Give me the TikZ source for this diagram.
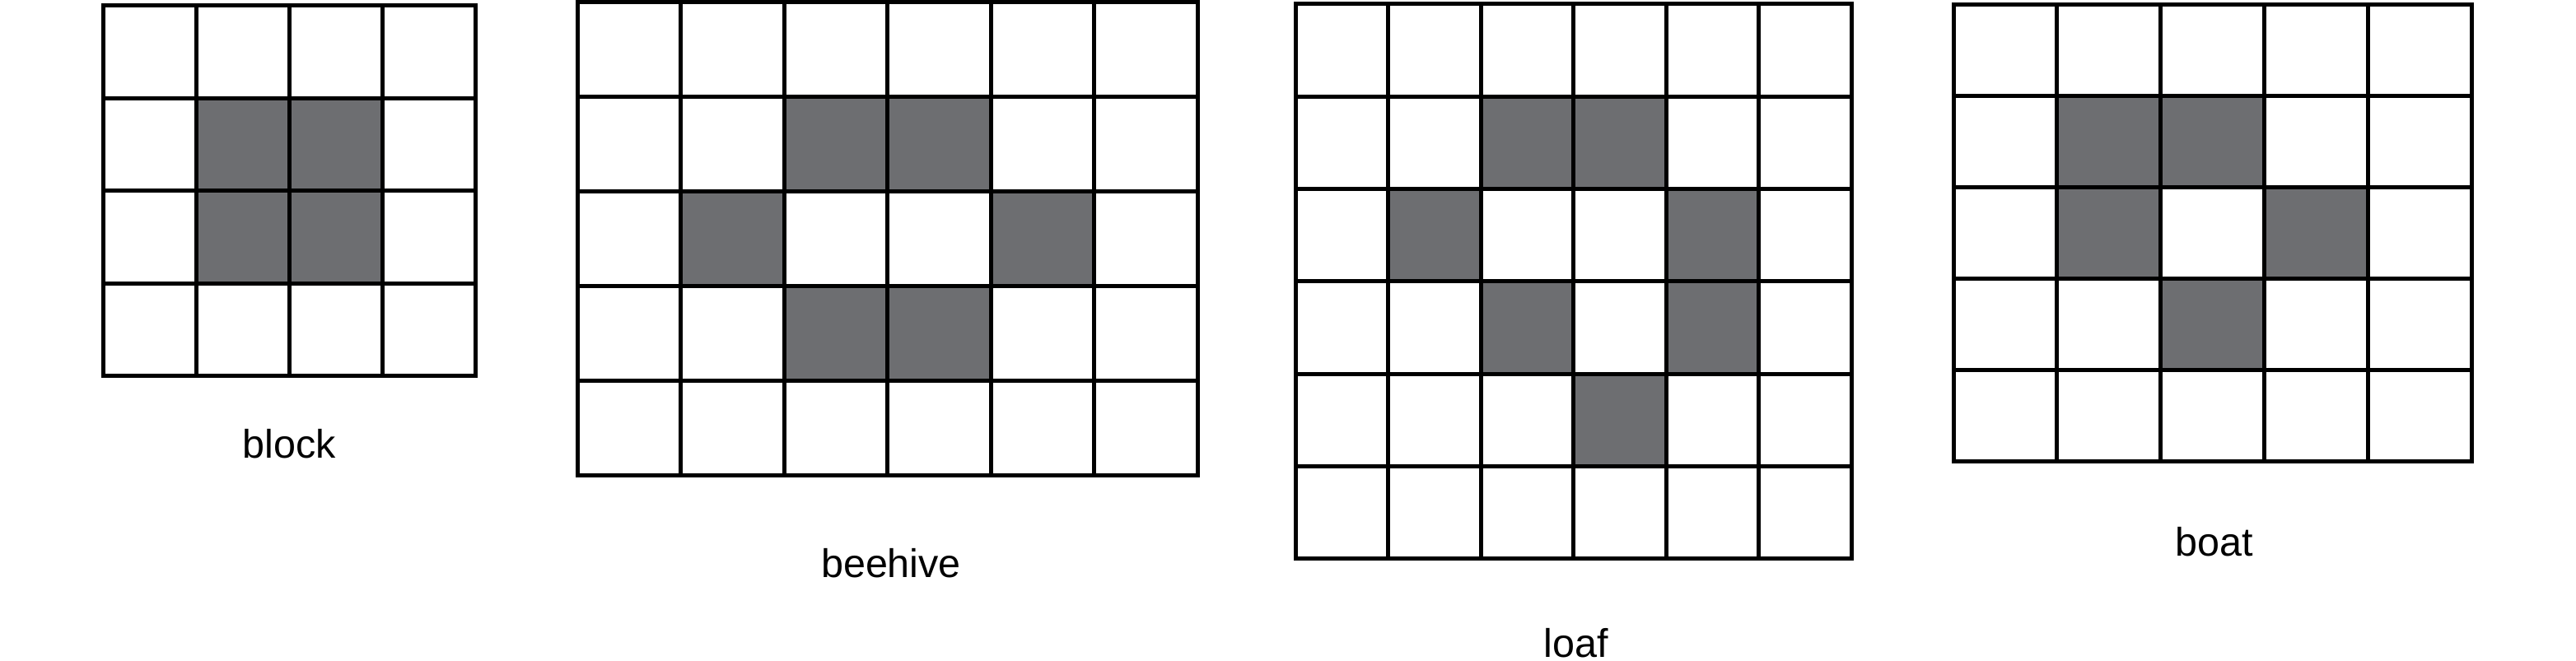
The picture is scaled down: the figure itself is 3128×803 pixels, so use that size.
\documentclass[tikz,border=0pt]{standalone}
\usepackage{fontspec}
\setmainfont{Liberation Sans}
\definecolor{cellgray}{HTML}{6D6E71}
\tikzset{
  gridline/.style={draw=black, line width=0.1cm, line cap=rect},
  livecell/.style={fill=cellgray},
  lifelabel/.style={anchor=base, inner sep=0pt, font=\fontsize{27.6}{30}\selectfont},
}
% #1 name, #2 x0, #3 y0, #4 cell width, #5 cell height, #6 columns, #7 rows, #8 live cells c/r
\newcommand\lifegrid[8]{%
  \foreach \c/\r in {#8} {
    \fill[livecell] ({#2+\c*#4},{#3+\r*#5}) rectangle ++(#4,#5);
  }
  \foreach \i in {1,...,\numexpr#6-1\relax} {
    \draw[gridline] ({#2+\i*#4},#3) -- ++(0,{#7*#5});
  }
  \foreach \j in {1,...,\numexpr#7-1\relax} {
    \draw[gridline] (#2,{#3+\j*#5}) -- ++({#6*#4},0);
  }
  \draw[gridline, line join=miter] (#2,#3) rectangle ++({#6*#4},{#7*#5});
  \coordinate (#1) at ({#2+#6*#4/2},{#3+#7*#5/2});
}
\begin{document}
\begin{tikzpicture}[x=0.02cm, y=-0.02cm]
  \useasboundingbox (0,0) rectangle (3128,803);
  \lifegrid{blockgrid}{125}{7}{113}{112.5}{4}{4}{1/1,2/1,1/2,2/2}
  \lifegrid{beehivegrid}{701}{3}{125.5}{115}{6}{5}{2/1,3/1,1/2,4/2,2/3,3/3}
  \lifegrid{loafgrid}{1573}{5}{112.5}{112.3}{6}{6}{2/1,3/1,1/2,4/2,2/3,4/3,3/4}
  \lifegrid{boatgrid}{2372}{6}{125.8}{111}{5}{5}{1/1,2/1,1/2,3/2,2/3}
  \node[lifelabel] (blocklabel) at (351,557) {block};
  \node[lifelabel] (beehivelabel) at (1082,702) {beehive};
  \node[lifelabel] (loaflabel) at (1914,798) {loaf};
  \node[lifelabel] (boatlabel) at (2689,675) {boat};
\end{tikzpicture}
\end{document}
